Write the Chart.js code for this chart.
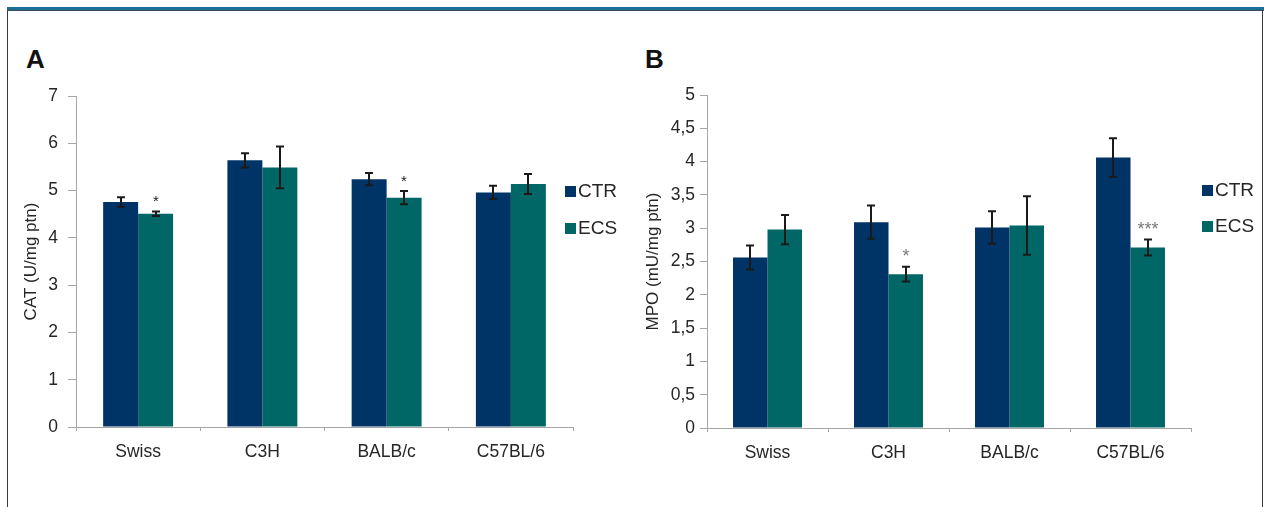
<!DOCTYPE html>
<html>
<head>
<meta charset="utf-8">
<script src="https://cdn.jsdelivr.net/npm/chart.js@4.4.1/dist/chart.umd.min.js"></script>
<style>
  html, body { margin: 0; padding: 0; background: #fff; }
  #frame { position: relative; width: 1269px; height: 507px; overflow: hidden; background: #fff; }
  .rule-top { position: absolute; left: 7px; top: 7px; width: 1257px; height: 3px; background: #1b6f96; border-bottom: 1px solid #3c4a52; }
  .rule-left { position: absolute; left: 7px; top: 10px; width: 1px; height: 497px; background: #3a3a3a; }
  .rule-right { position: absolute; left: 1262px; top: 10px; width: 1px; height: 497px; background: #3a3a3a; }
  .panel { position: absolute; top: 44px; line-height: 1; font: bold 26px 'Liberation Sans Narrow', 'Liberation Sans', Arial, sans-serif; color: #111; }
  canvas { position: absolute; top: 0; }
</style>
</head>
<body>
<div id="frame">
  <div class="rule-top"></div>
  <div class="rule-left"></div>
  <div class="rule-right"></div>
  <div class="panel" style="left:26px">A</div>
  <div class="panel" style="left:645px">B</div>
  <canvas id="catChart" width="634" height="507" style="left:0;width:634px;height:507px"></canvas>
  <canvas id="mpoChart" width="635" height="507" style="left:634px;width:635px;height:507px"></canvas>
</div>
<script>
// Mouse strains and treatment groups
const strains = ['Swiss', 'C3H', 'BALB/c', 'C57BL/6'];
const groupNames = ['CTR', 'ECS'];

// Catalase activity (U/mg ptn), mean and SEM
const catCtr = [4.76, 5.64, 5.24, 4.96];
const catCtrSem = [0.10, 0.15, 0.13, 0.14];
const catEcs = [4.51, 5.49, 4.85, 5.14];
const catEcsSem = [0.05, 0.44, 0.14, 0.21];
const catEcsMarks = ['*', '', '*', ''];
const catTickLabels = ['0', '1', '2', '3', '4', '5', '6', '7'];

// Myeloperoxidase activity (mU/mg ptn), mean and SEM
const mpoCtr = [2.56, 3.09, 3.01, 4.06];
const mpoCtrSem = [0.18, 0.25, 0.245, 0.29];
const mpoEcs = [2.98, 2.31, 3.04, 2.71];
const mpoEcsSem = [0.22, 0.11, 0.44, 0.12];
const mpoEcsMarks = ['', '*', '', '***'];
const mpoTickLabels = ['0', '0,5', '1', '1,5', '2', '2,5', '3', '3,5', '4', '4,5', '5'];

const FONT = "'Liberation Sans Narrow', 'Liberation Sans', Arial, sans-serif";
const AXIS_GRAY = '#a6a6a6';
const TEXT = '#262626';
const CTR_COLOR = '#003366';
const ECS_COLOR = '#006666';

// Error bars with caps, plus significance marks above them
const whiskers = {
  id: 'whiskers',
  afterDatasetsDraw(chart, args, opts) {
    const ctx = chart.ctx;
    const yScale = chart.scales.y;
    chart.data.datasets.forEach((ds, i) => {
      const meta = chart.getDatasetMeta(i);
      meta.data.forEach((bar, j) => {
        const v = ds.data[j];
        const e = ds.sem[j];
        const top = yScale.getPixelForValue(v + e);
        const bot = yScale.getPixelForValue(v - e);
        const x = Math.round(bar.x);
        ctx.save();
        ctx.strokeStyle = '#1a1a1a';
        ctx.lineWidth = 2;
        ctx.beginPath();
        ctx.moveTo(x, top); ctx.lineTo(x, bot);
        ctx.moveTo(x - 4, top); ctx.lineTo(x + 4, top);
        ctx.moveTo(x - 4, bot); ctx.lineTo(x + 4, bot);
        ctx.stroke();
        const mark = ds.marks ? ds.marks[j] : '';
        if (mark) {
          ctx.fillStyle = opts.markColor;
          ctx.font = opts.markFont;
          ctx.textAlign = 'center';
          ctx.textBaseline = 'alphabetic';
          ctx.fillText(mark, x, top - 5);
        }
        ctx.restore();
      });
    });
  }
};

// Key at the right of each panel
const sideKey = {
  id: 'sideKey',
  afterDraw(chart, args, opts) {
    const ctx = chart.ctx;
    ctx.save();
    chart.data.datasets.forEach((ds, i) => {
      const y0 = opts.top + i * opts.gap;
      ctx.fillStyle = ds.backgroundColor;
      ctx.fillRect(opts.left, y0, 11, 11);
      ctx.fillStyle = TEXT;
      ctx.font = '19px ' + FONT;
      ctx.textAlign = 'left';
      ctx.textBaseline = 'middle';
      ctx.fillText(ds.label, opts.left + 13, y0 + 6);
    });
    ctx.restore();
  }
};

function buildChart(id, cfg) {
  return new Chart(document.getElementById(id), {
    type: 'bar',
    data: {
      labels: strains,
      datasets: [
        { label: groupNames[0], data: cfg.ctr, sem: cfg.ctrSem, backgroundColor: CTR_COLOR },
        { label: groupNames[1], data: cfg.ecs, sem: cfg.ecsSem, marks: cfg.marks, backgroundColor: ECS_COLOR }
      ]
    },
    options: {
      responsive: false,
      animation: false,
      devicePixelRatio: 1,
      layout: { padding: cfg.pad },
      datasets: { bar: { categoryPercentage: cfg.catPct, barPercentage: 1, borderWidth: 0 } },
      plugins: {
        legend: { display: false },
        tooltip: { enabled: false },
        whiskers: { markColor: cfg.markColor, markFont: cfg.markFont },
        sideKey: cfg.key
      },
      scales: {
        x: {
          grid: { display: true, drawOnChartArea: false, tickLength: 4, color: AXIS_GRAY, offset: true },
          border: { color: AXIS_GRAY, width: 1 },
          ticks: { color: TEXT, font: { family: FONT, size: 17.5 }, padding: 11, maxRotation: 0 },
          afterFit: s => { s.height = 45; }
        },
        y: {
          min: 0,
          max: cfg.max,
          ticks: {
            stepSize: cfg.step,
            autoSkip: false,
            color: TEXT,
            font: { family: FONT, size: 17.5 },
            padding: cfg.tickPad,
            callback: (v, i) => cfg.tickLabels[i]
          },
          grid: { drawOnChartArea: false, tickLength: cfg.tickLen, color: AXIS_GRAY },
          border: { color: AXIS_GRAY, width: 1 },
          title: {
            display: true,
            text: cfg.title,
            color: TEXT,
            font: { family: FONT, size: 17 },
            padding: { top: cfg.titlePad, bottom: 0 }
          },
          afterFit: s => { s.width = cfg.yWidth; }
        }
      }
    },
    plugins: [whiskers, sideKey]
  });
}

buildChart('catChart', {
  ctr: catCtr, ctrSem: catCtrSem, ecs: catEcs, ecsSem: catEcsSem, marks: catEcsMarks,
  max: 7, step: 1, tickLabels: catTickLabels,
  title: 'CAT (U/mg ptn)',
  pad: { left: 0, right: 61, top: 96, bottom: 35 },
  yWidth: 76, tickLen: 8, tickPad: 10, titlePad: 21, catPct: 0.563,
  markColor: '#1a1a1a', markFont: '15px ' + FONT,
  key: { left: 565, top: 186, gap: 37 }
});

buildChart('mpoChart', {
  ctr: mpoCtr, ctrSem: mpoCtrSem, ecs: mpoEcs, ecsSem: mpoEcsSem, marks: mpoEcsMarks,
  max: 5, step: 0.5, tickLabels: mpoTickLabels,
  title: 'MPO (mU/mg ptn)',
  pad: { left: 0, right: 78, top: 95, bottom: 34 },
  yWidth: 73, tickLen: 7, tickPad: 5, titlePad: 9, catPct: 0.57,
  markColor: '#7a7a7a', markFont: '18px ' + FONT,
  key: { left: 568, top: 185, gap: 36 }
});
</script>
</body>
</html>
